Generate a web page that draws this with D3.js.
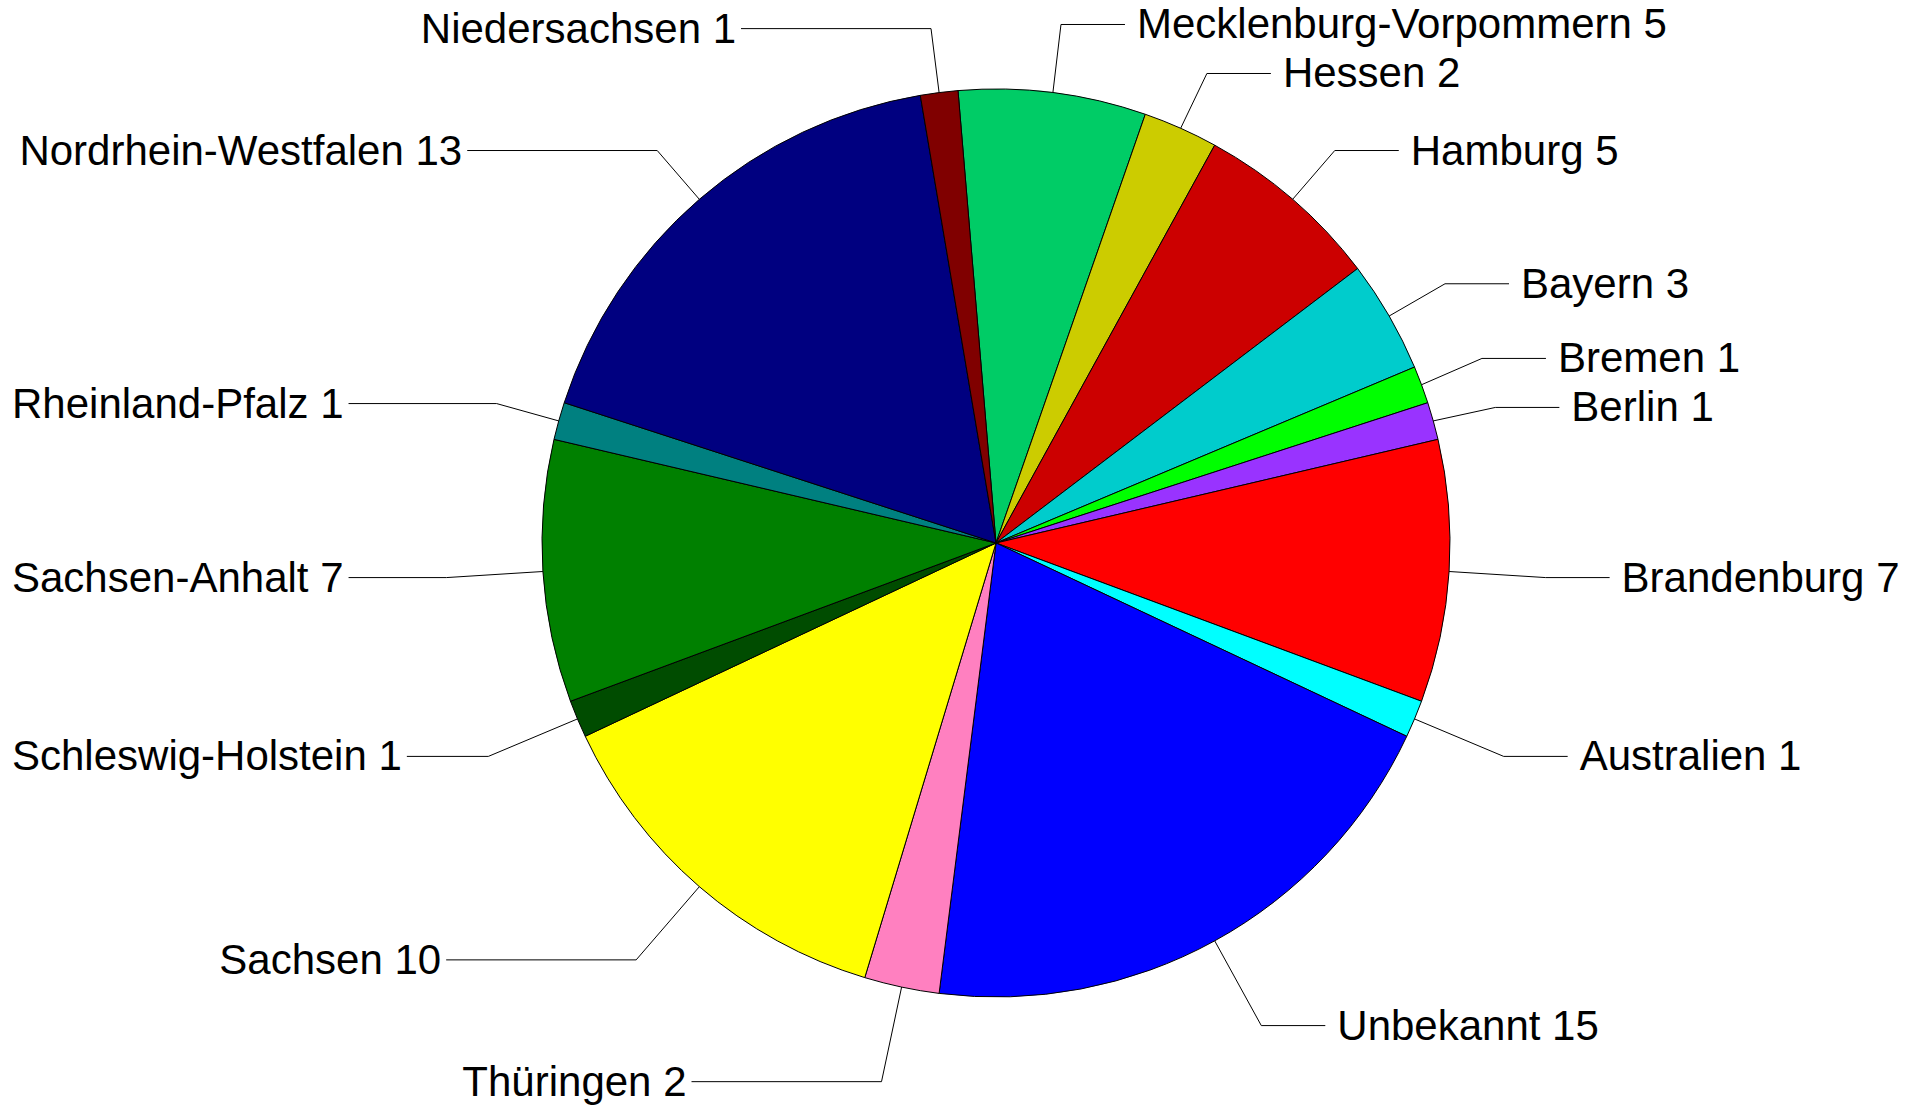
<!DOCTYPE html>
<html>
<head>
<meta charset="utf-8">
<script src="https://cdn.jsdelivr.net/npm/d3@7"></script>
<style>
  html, body { margin: 0; padding: 0; background: #fff; }
  text { font-family: "Liberation Sans", Arial, sans-serif; }
</style>
</head>
<body>
<div class="chart"></div>
<script>
// slices in drawing order, clockwise from the top
const labels = ['Mecklenburg-Vorpommern', 'Hessen', 'Hamburg', 'Bayern', 'Bremen', 'Berlin',
  'Brandenburg', 'Australien', 'Unbekannt', 'Thüringen', 'Sachsen', 'Schleswig-Holstein',
  'Sachsen-Anhalt', 'Rheinland-Pfalz', 'Nordrhein-Westfalen', 'Niedersachsen'];
const values = [5, 2, 5, 3, 1, 1, 7, 1, 15, 2, 10, 1, 7, 1, 13, 1];
const colors = ['#00cc66', '#cccc00', '#cc0000', '#00cccc', '#00ff00', '#9933ff',
  '#ff0000', '#00ffff', '#0000ff', '#ff80c0', '#ffff00', '#004c00',
  '#008000', '#008080', '#000080', '#800000'];

const data = labels.map((name, i) => ({name: name, value: values[i], color: colors[i]}));

function makeChart(data) {
  const width = 1922;
  const height = 1106;
  const cx = 996, cy = 543, radius = 454;
  const fontSize = 42;
  const minGap = 49;

  const svg = d3.select('.chart').append('svg')
    .attr('width', width)
    .attr('height', height);

  const total = d3.sum(data, d => d.value);
  const start = -2 * Math.PI / total;  // first slice begins one unit left of 12 o'clock

  const pie = d3.pie()
    .sort(null)
    .value(d => d.value)
    .startAngle(start)
    .endAngle(start + 2 * Math.PI);

  const arc = d3.arc().innerRadius(0).outerRadius(radius);
  const arcs = pie(data);

  const g = svg.append('g').attr('transform', `translate(${cx},${cy})`);

  g.selectAll('path')
    .data(arcs)
    .enter()
    .append('path')
    .attr('d', arc)
    .attr('fill', d => d.data.color)
    .attr('stroke', '#000')
    .attr('stroke-width', 1);

  const polar = (a, r) => [cx + r * Math.sin(a), cy - r * Math.cos(a)];

  // first pass: where each label wants to go
  const items = arcs.map(d => {
    const mid = (d.startAngle + d.endAngle) / 2;
    // labels in the lower half sit a bit further out
    const k = Math.cos(mid) > 0 ? 1.142 : 1.213;
    return {
      d: d,
      p0: polar(mid, radius),
      p1: polar(mid, radius * k),
      right: Math.sin(mid) > 0
    };
  });

  // push neighbouring labels apart so they do not overlap
  [true, false].forEach(side => {
    const list = items.filter(it => it.right === side).sort((a, b) => a.p1[1] - b.p1[1]);
    for (let iter = 0; iter < 20; iter++) {
      for (let i = 1; i < list.length; i++) {
        const gap = list[i].p1[1] - list[i - 1].p1[1];
        if (gap < minGap) {
          const push = (minGap - gap) / 2;
          list[i - 1].p1[1] -= push;
          list[i].p1[1] += push;
        }
      }
    }
  });

  items.forEach(it => {
    const txt = svg.append('text')
      .attr('font-size', fontSize)
      .attr('fill', '#000')
      .text(it.d.data.name + ' ' + it.d.data.value);
    const tw = txt.node().getComputedTextLength();

    let x2, tx;
    if (it.right) {
      x2 = it.p1[0] + 64;
      tx = x2 + 12;
    } else {
      x2 = it.p1[0] - 190;
      tx = x2 - 5 - tw;
      if (tx < 12) {
        tx = 12;
        x2 = tx + tw + 5;
      }
    }
    txt.attr('x', tx).attr('y', it.p1[1] + 14);

    svg.append('polyline')
      .attr('points', [it.p0, it.p1, [x2, it.p1[1]]].map(p => p.join(',')).join(' '))
      .attr('fill', 'none')
      .attr('stroke', '#000')
      .attr('stroke-width', 1);
  });
}

makeChart(data);
</script>
</body>
</html>
